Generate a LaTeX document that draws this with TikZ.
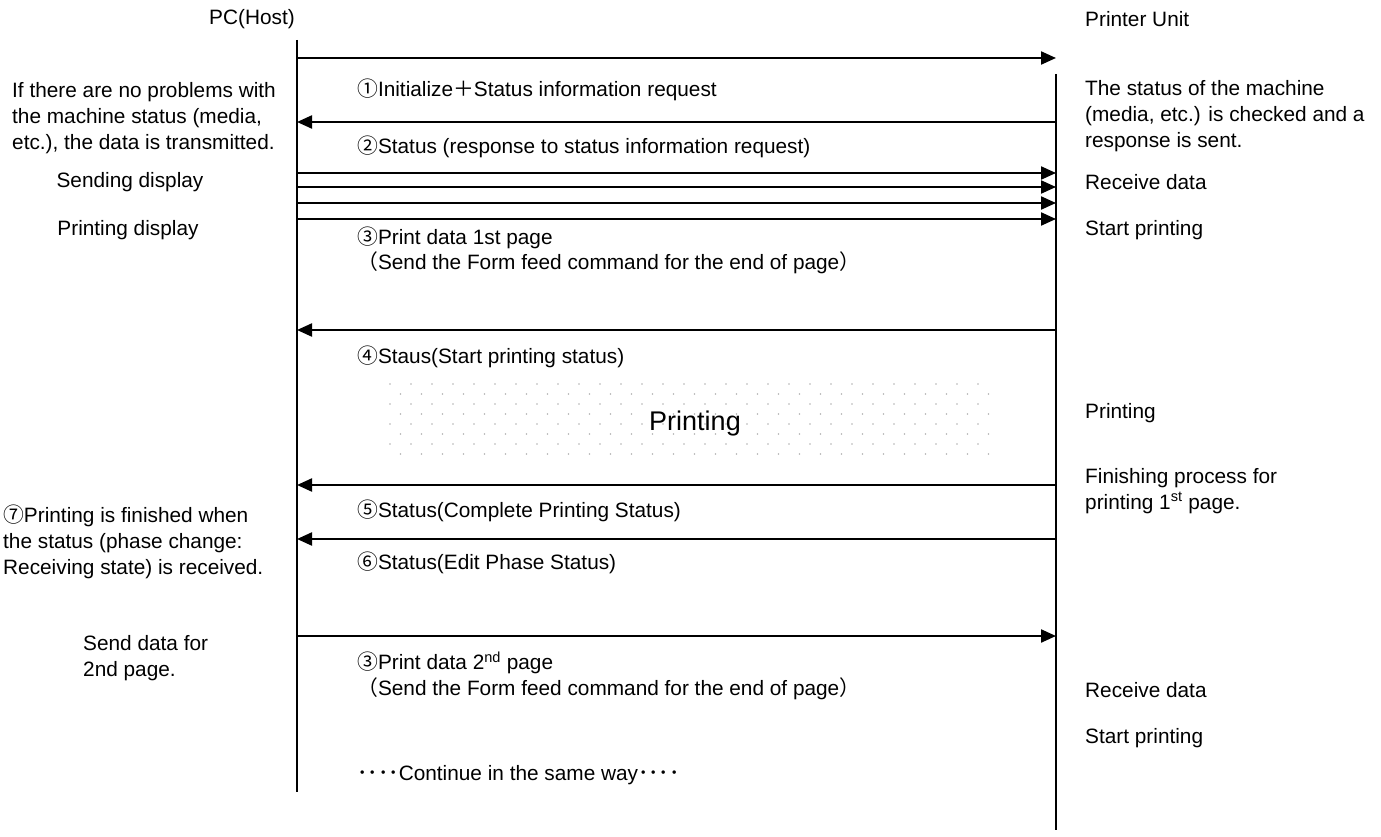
\documentclass[tikz,border=0pt]{standalone}
\usepackage{fontspec}
\setmainfont{Liberation Sans}
\newfontfamily\cjk{Noto Sans CJK JP}
\usetikzlibrary{arrows.meta}
\tikzset{
  txt/.style={inner sep=0pt, font=\fontsize{20.8}{26}\selectfont},
  lbl/.style={txt, anchor=west},
  ctr/.style={txt, anchor=center},
  blk/.style={txt, anchor=north west, align=left},
  life/.style={line width=1.6pt},
  msg/.style={line width=2.2pt, -{Triangle[length=15pt,width=13pt]}},
  dotc/.style={fill=black!30},
}
\begin{document}
\begin{tikzpicture}[x=1pt,y=-1pt]
\useasboundingbox (0,0) rectangle (1381,837);

% lifelines
\coordinate (hTop) at (297,40);  \coordinate (hBot) at (297,792);
\coordinate (pTop) at (1056,74); \coordinate (pBot) at (1056,830);
\draw[life] (hTop) -- (hBot);
\draw[life] (pTop) -- (pBot);

% headers
\node[ctr] (pc) at (252,19) {PC(Host)};
\node[lbl] (pu) at (1085,19) {Printer Unit};

% message endpoints
\foreach \n/\y in {m1/58, m3a/173, m3b/187, m3c/203, m3d/219, m8/636}{
  \coordinate (\n s) at (297,\y);
  \coordinate (\n e) at (1056,\y);
}
\foreach \n/\y in {m2/122, m4/330, m5/485, m6/539}{
  \coordinate (\n s) at (1056,\y);
  \coordinate (\n e) at (297,\y);
}
\foreach \n in {m1,m2,m3a,m3b,m3c,m3d,m4,m5,m6,m8}{
  \draw[msg] (\n s) -- (\n e);
}

% message labels
\node[lbl] (l1) at (357,90)  {{\cjk ①}Initialize{\cjk ＋}Status information request};
\node[lbl] (l2) at (357,147) {{\cjk ②}Status (response to status information request)};
\node[lbl] (l3) at (357,238) {{\cjk ③}Print data 1st page};
\node[lbl] (l3b) at (357,263) {{\cjk （}Send the Form feed command for the end of page{\cjk ）}};
\node[lbl] (l4) at (357,357) {{\cjk ④}Staus(Start printing status)};
\node[lbl] (l5) at (357,511) {{\cjk ⑤}Status(Complete Printing Status)};
\node[lbl] (l6) at (357,563) {{\cjk ⑥}Status(Edit Phase Status)};
\node[lbl] (l8) at (357,663) {{\cjk ③}Print data 2\textsuperscript{nd} page};
\node[lbl] (l8b) at (357,689) {{\cjk （}Send the Form feed command for the end of page{\cjk ）}};
\node[lbl] (cont) at (357,775) {{\cjk ････}Continue in the same way{\cjk ････}};

% printing band
\foreach \r in {0,...,7}{
  \pgfmathsetmacro{\off}{mod(\r,2)*10.5}
  \foreach \c in {0,...,28}{
    \fill[dotc] ({390+\c*21+\off},{384+\r*10}) circle (0.9pt);
  }
}
\node[txt, font=\fontsize{27}{30}\selectfont] (prt) at (695,424) {Printing};

% left notes
\node[blk] (n1) at (12,82) {If there are no problems with\\the machine status (media,\\etc.), the data is transmitted.};
\node[ctr] (n2) at (130,182) {Sending display};
\node[ctr] (n3) at (128,230) {Printing display};
\node[blk] (n4) at (3,505) {{\cjk ⑦}Printing is finished when\\the status (phase change:\\Receiving state) is received.};
\node[blk] (n5) at (83,635) {Send data for\\2nd page.};

% right notes
\node[blk] (r1) at (1085,80) {The status of the machine\\(media, etc.) is checked and a\\response is sent.};
\node[lbl] (r2) at (1085,182) {Receive data};
\node[lbl] (r3) at (1085,230) {Start printing};
\node[lbl] (r4) at (1085,413) {Printing};
\node[blk] (r5) at (1085,468) {Finishing process for\\printing 1\textsuperscript{st} page.};
\node[lbl] (r6) at (1085,690) {Receive data};
\node[lbl] (r7) at (1085,738) {Start printing};
\end{tikzpicture}
\end{document}
